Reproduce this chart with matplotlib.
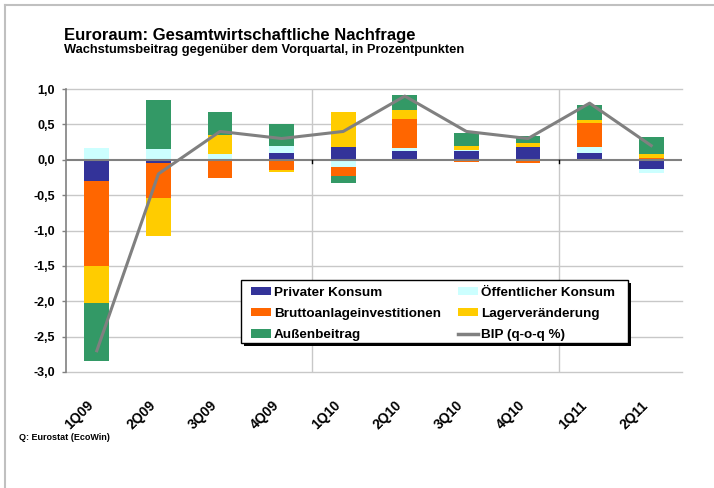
import numpy as np
import matplotlib
matplotlib.use("Agg")
import matplotlib.pyplot as plt
import matplotlib.transforms as mtransforms
from matplotlib.patches import Patch, Rectangle
from matplotlib.lines import Line2D

plt.rcParams['font.family'] = ['Liberation Sans', 'DejaVu Sans']
plt.rcParams['font.weight'] = 'bold'

# Wachstumsbeitraege in Prozentpunkten
quarters = ['1Q09', '2Q09', '3Q09', '4Q09', '1Q10', '2Q10', '3Q10', '4Q10', '1Q11', '2Q11']
privat = [-0.30, -0.05, -0.02, 0.09, 0.18, 0.12, 0.12, 0.18, 0.10, -0.13]
oeffentlich = [0.17, 0.15, 0.08, 0.11, -0.10, 0.05, 0.02, 0.00, 0.08, -0.06]
brutto = [-1.20, -0.49, -0.24, -0.14, -0.13, 0.41, -0.03, -0.04, 0.34, 0.03]
lager = [-0.53, -0.54, 0.27, -0.04, 0.49, 0.12, 0.06, 0.06, 0.04, 0.05]
aussen = [-0.82, 0.70, 0.33, 0.31, -0.10, 0.21, 0.18, 0.09, 0.21, 0.24]
bip = [-2.7, -0.2, 0.4, 0.3, 0.4, 0.9, 0.4, 0.3, 0.8, 0.2]

series = [
    ('Privater Konsum', privat, '#333399'),
    ('Öffentlicher Konsum', oeffentlich, '#CCFFFF'),
    ('Bruttoanlageinvestitionen', brutto, '#FF6600'),
    ('Lagerveränderung', lager, '#FFCC00'),
    ('Außenbeitrag', aussen, '#339966'),
]

W, H = 714, 488
fig = plt.figure(figsize=(W / 100, H / 100), dpi=100)


def px(xp, yp):
    # pixel position (from top left) -> figure fraction
    return xp / W, 1 - yp / H


# axes in pixel coords: left 66, right 682, top 89, bottom 372
ax = fig.add_axes([66 / W, 1 - 372 / H, (682 - 66) / W, (372 - 89) / H])

x = np.arange(len(quarters))
pos_bottom = np.zeros(len(quarters))
neg_bottom = np.zeros(len(quarters))
for name, vals, col in series:
    v = np.array(vals)
    bottom = np.where(v >= 0, pos_bottom, neg_bottom)
    ax.bar(x, v, width=0.405, bottom=bottom, color=col, linewidth=0, zorder=3)
    pos_bottom += np.where(v >= 0, v, 0)
    neg_bottom += np.where(v < 0, v, 0)

ax.plot(x, bip, color='#808080', lw=2.2, zorder=5)

ax.set_xlim(-0.5, len(quarters) - 0.5)
ax.set_ylim(-3.0, 1.0)
yt = np.arange(-3.0, 1.01, 0.5)
ax.set_yticks(yt)
ax.set_yticklabels([f'{v:.1f}'.replace('.', ',') for v in yt], fontsize=9, fontweight='bold')
for v in yt:
    if abs(v) > 1e-9:
        ax.axhline(v, color='#c8c8c8', lw=1.0, zorder=1, clip_on=False)
ax.axhline(0, color='#808080', lw=1.5, zorder=4)
for xv in [3.5, 7.5]:
    ax.axvline(xv, color='#c8c8c8', lw=1.0, zorder=1)
    ax.plot([xv, xv], [0, -0.05], color='black', lw=1.0, zorder=4)

for s in ['top', 'right', 'bottom']:
    ax.spines[s].set_visible(False)
ax.spines['left'].set_color('#808080')
ax.spines['left'].set_linewidth(1.2)
ax.spines['left'].set_zorder(6)
ax.tick_params(axis='y', direction='out', length=3, width=1, color='#808080', pad=5)

ax.set_xticks(x)
ax.set_xticklabels(quarters, rotation=45, ha='right', rotation_mode='anchor',
                   fontsize=10, fontweight='bold')
ax.tick_params(axis='x', length=0, pad=19)
shift = mtransforms.ScaledTranslation(-10 / 100, 0, fig.dpi_scale_trans)
for lbl in ax.get_xticklabels():
    lbl.set_transform(lbl.get_transform() + shift)

# legend box with hard shadow (drawn separately)
lx0, ly0, lx1, ly1 = 241, 280, 628, 343
fig.add_artist(Rectangle(px(lx0 + 2.5, ly1 + 2.5), (lx1 - lx0) / W, (ly1 - ly0) / H,
                         transform=fig.transFigure, facecolor='black', edgecolor='none',
                         zorder=8))
fig.add_artist(Rectangle(px(lx0, ly1), (lx1 - lx0) / W, (ly1 - ly0) / H,
                         transform=fig.transFigure, facecolor='white', edgecolor='black',
                         lw=1.0, zorder=9))

handles = [Patch(facecolor=series[0][2], label=series[0][0]),
           Patch(facecolor=series[2][2], label=series[2][0]),
           Patch(facecolor=series[4][2], label=series[4][0]),
           Patch(facecolor=series[1][2], label=series[1][0]),
           Patch(facecolor=series[3][2], label=series[3][0]),
           Line2D([], [], color='#808080', lw=2.5, label='BIP (q-o-q %)')]
leg = fig.legend(handles=handles, ncol=2, loc='upper left',
                 bbox_to_anchor=px(251, 287), frameon=False, borderaxespad=0,
                 borderpad=0, prop={'size': 9.7, 'weight': 'bold'},
                 handlelength=1.5, handleheight=0.55, handletextpad=0.2,
                 labelspacing=0.68, columnspacing=1.25)
leg.set_zorder(10)

# titles
fig.text(*px(64, 40), 'Euroraum: Gesamtwirtschaftliche Nachfrage',
         fontsize=12, fontweight='bold', ha='left', va='baseline')
fig.text(*px(64, 53), 'Wachstumsbeitrag gegenüber dem Vorquartal, in Prozentpunkten',
         fontsize=9.3, fontweight='bold', ha='left', va='baseline')
fig.text(*px(19, 438), 'Q: Eurostat (EcoWin)', fontsize=6.5, fontweight='bold',
         ha='left', va='center')

# frame lines of the screenshot
fig.add_artist(Line2D([5 / W, 1], [1 - 4.5 / H, 1 - 4.5 / H], color='#c0c0c0', lw=1.5,
                      transform=fig.transFigure))
fig.add_artist(Line2D([5 / W, 5 / W], [0, 1 - 4.5 / H], color='#c0c0c0', lw=1.5,
                      transform=fig.transFigure))

fig.savefig('out.png', dpi=100)
